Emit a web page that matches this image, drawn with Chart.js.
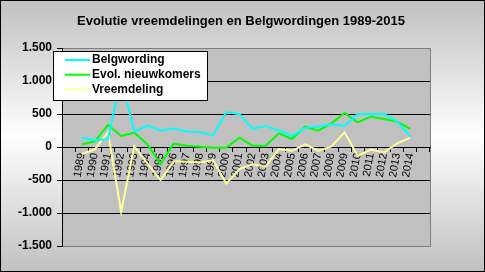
<!DOCTYPE html>
<html>
<head>
<meta charset="utf-8">
<script src="https://cdn.jsdelivr.net/npm/chart.js@4.4.0/dist/chart.umd.min.js"></script>
<style>
  html, body { margin: 0; padding: 0; background: #fff; }
  #chart1 { display: block; }
</style>
</head>
<body>
<canvas id="chart1" width="485" height="272"></canvas>
<script>
// jaartallen op de x-as
const years = ['1989', '1990', '1991', '1992', '1993', '1994', '1995', '1996', '1997', '1998',
  '1999', '2000', '2001', '2002', '2003', '2004', '2005', '2006', '2007', '2008',
  '2009', '2010', '2011', '2012', '2013', '2014']

const belgwording = [140, 106, 117, 1060, 232, 324, 250, 280, 235, 228,
  176, 530, 497, 278, 318, 250, 170, 290, 312, 344,
  318, 500, 500, 500, 383, 165]

const nieuwkomers = [38, 86, 336, 168, 217, 40, -255, 50, 20, 5,
  -10, -10, 141, 20, 20, 207, 121, 308, 247, 358,
  515, 374, 460, 424, 384, 273]

const vreemdeling = [-106, -35, 223, -985, 10, -250, -500, -215, -222, -235,
  -197, -555, -335, -263, -298, -30, -58, 40, -58, 10,
  222, -132, -38, -83, 53, 141]

const yTicks = [-1500, -1000, -500, 0, 500, 1000, 1500]

const FONT = "'Liberation Sans', Arial, sans-serif"

// lege categorie voor en na de reeks, zoals in het origineel
let labels = [''].concat(years, [''])
let pad = (arr) => [null].concat(arr, [null])

let fmt = (v) => {
  let s = Math.abs(v).toString().replace(/\B(?=(\d{3})+(?!\d))/g, '.')
  return (v < 0 ? '-' : '') + s
}

// achtergrond, plotvlak en titel
const backdrop = {
  id: 'backdrop',
  beforeDraw(chart) {
    let { ctx, width, height, chartArea } = chart
    ctx.save()
    let g = ctx.createLinearGradient(0, 0, 0, height)
    g.addColorStop(0, '#c0c0c0')
    g.addColorStop(0.5, '#ffffff')
    g.addColorStop(1, '#c0c0c0')
    ctx.fillStyle = g
    ctx.fillRect(0, 0, width, height)
    ctx.strokeStyle = '#000'
    ctx.lineWidth = 1
    ctx.strokeRect(0.5, 0.5, width - 1, height - 1)

    ctx.fillStyle = '#c0c0c0'
    ctx.fillRect(chartArea.left, chartArea.top, chartArea.width, chartArea.height)
    ctx.strokeStyle = '#808080'
    ctx.strokeRect(chartArea.left + 0.5, chartArea.top + 0.5, chartArea.width, chartArea.height)

    ctx.fillStyle = '#000'
    ctx.font = 'bold 13px ' + FONT
    ctx.textAlign = 'center'
    ctx.textBaseline = 'middle'
    ctx.fillText('Evolutie vreemdelingen en Belgwordingen 1989-2015', 241, 21)
    ctx.restore()
  }
}

// legende in de linkerbovenhoek, over het plotvlak
const boxLegend = {
  id: 'boxLegend',
  afterDraw(chart) {
    let ctx = chart.ctx
    let x = 53, y = 51, w = 154, h = 49
    ctx.save()
    ctx.fillStyle = '#fff'
    ctx.fillRect(x, y, w, h)
    ctx.strokeStyle = '#000'
    ctx.lineWidth = 1
    ctx.strokeRect(x + 0.5, y + 0.5, w, h)
    ctx.font = 'bold 12px ' + FONT
    ctx.textBaseline = 'middle'
    ctx.textAlign = 'left'
    chart.data.datasets.forEach((ds, i) => {
      let ly = y + 9 + i * 14.7
      ctx.strokeStyle = ds.borderColor
      ctx.lineWidth = 2
      ctx.beginPath()
      ctx.moveTo(x + 12, ly)
      ctx.lineTo(x + 37, ly)
      ctx.stroke()
      ctx.fillStyle = '#000'
      ctx.fillText(ds.label, x + 39, ly)
    })
    ctx.restore()
  }
}

let ctx = document.getElementById('chart1').getContext('2d')

new Chart(ctx, {
  type: 'line',
  data: {
    labels,
    datasets: [{
      label: 'Belgwording',
      data: pad(belgwording),
      borderColor: '#00ffff',
      backgroundColor: '#00ffff'
    }, {
      label: 'Evol. nieuwkomers',
      data: pad(nieuwkomers),
      borderColor: '#00ff00',
      backgroundColor: '#00ff00'
    }, {
      label: 'Vreemdeling',
      data: pad(vreemdeling),
      borderColor: '#ffff99',
      backgroundColor: '#ffff99'
    }]
  },
  options: {
    responsive: false,
    animation: false,
    devicePixelRatio: 1,
    layout: { padding: { left: 0, right: 55, top: 48, bottom: 26 } },
    elements: {
      line: { borderWidth: 2, tension: 0 },
      point: { radius: 0 }
    },
    plugins: {
      legend: { display: false },
      title: { display: false },
      tooltip: { enabled: false }
    },
    scales: {
      x: {
        type: 'category',
        position: { y: 0 },
        offset: true,
        afterFit: (scale) => { scale.height = 0 },
        grid: {
          offset: true,
          drawOnChartArea: false,
          tickLength: 4,
          color: '#000',
          tickColor: '#000'
        },
        border: { display: true, color: '#000', width: 1 },
        ticks: {
          autoSkip: false,
          minRotation: 80,
          maxRotation: 80,
          padding: 1,
          color: '#000',
          font: { family: FONT, size: 11 }
        }
      },
      y: {
        min: -1500,
        max: 1500,
        afterFit: (scale) => { scale.width = 62 },
        afterBuildTicks: (scale) => { scale.ticks = yTicks.map(v => ({ value: v })) },
        grid: {
          color: (c) => (c.tick && Math.abs(c.tick.value) < 1500) ? '#000' : 'rgba(0,0,0,0)',
          tickColor: '#000',
          tickLength: 5
        },
        border: { display: true, color: '#000', width: 1 },
        ticks: {
          padding: 5,
          color: '#000',
          font: { family: FONT, size: 12, weight: 'bold' },
          callback: (v) => fmt(v)
        }
      }
    }
  },
  plugins: [backdrop, boxLegend]
})
</script>
</body>
</html>
